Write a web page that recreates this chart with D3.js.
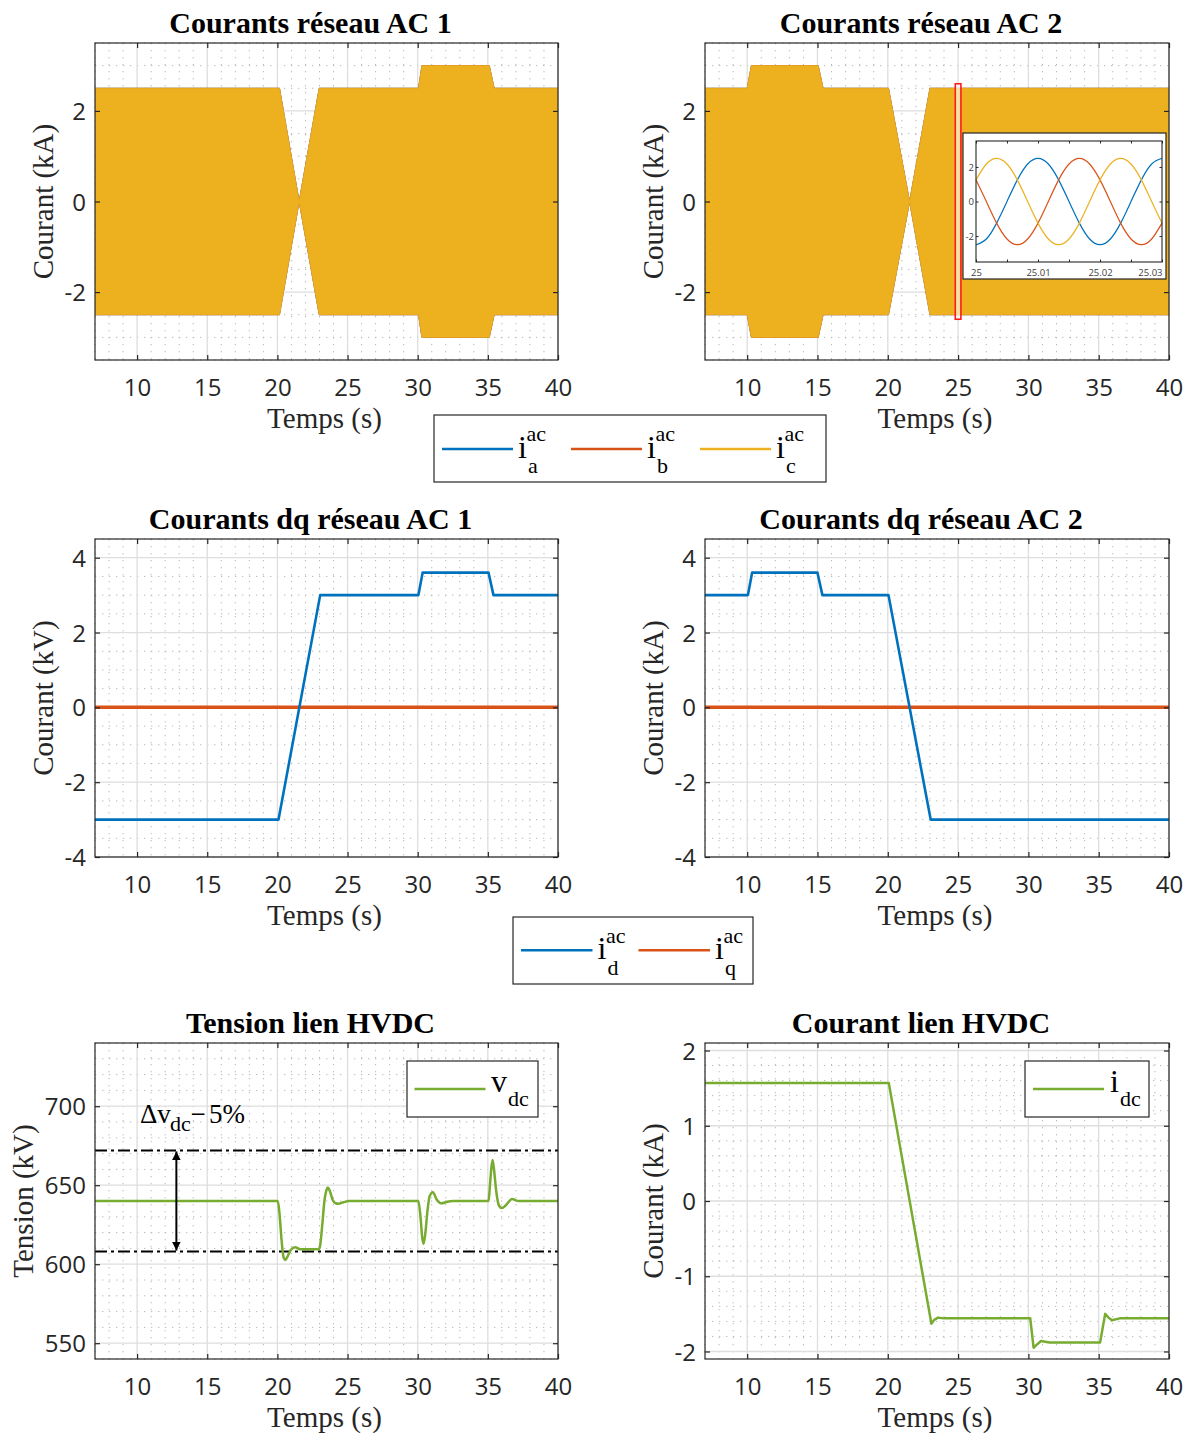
<!DOCTYPE html>
<html><head><meta charset="utf-8">
<script src="https://cdn.jsdelivr.net/npm/d3@7"></script>
<style>
body{margin:0;background:#fff;}
svg{display:block;}
</style></head><body>
<svg id="c" width="1198" height="1436"></svg>
<script>
// ---------------- data ----------------
const xDomain = [7, 40];
const xTicks = [10, 15, 20, 25, 30, 35, 40];
const acYTicks = [-2, 0, 2];
const dqYTicks = [-4, -2, 0, 2, 4];
const vdcYTicks = [550, 600, 650, 700];
const idcYTicks = [-2, -1, 0, 1, 2];

// AC current envelopes (peak amplitude, kA)
const ac1EnvT = [7, 20.15, 21.55, 22.98, 30.06, 30.3, 35.1, 35.45, 40];
const ac1EnvA = [2.5, 2.5, 0, 2.5, 2.5, 3.0, 3.0, 2.5, 2.5];
const ac2EnvT = [7, 10.0, 10.3, 15.05, 15.4, 20.05, 21.55, 23.0, 40];
const ac2EnvA = [2.5, 2.5, 3.0, 3.0, 2.5, 2.5, 0, 2.5, 2.5];

// zoomed inset (AC 2 around t = 25 s)
const insetT = [25, 25.00167, 25.00333, 25.005, 25.00667, 25.00833, 25.01, 25.01167, 25.01333, 25.015,
                25.01667, 25.01833, 25.02, 25.02167, 25.02333, 25.025, 25.02667, 25.02833, 25.03];
const insetA = [-2.5, -2.17, -1.25, 0, 1.25, 2.17, 2.5, 2.17, 1.25, 0, -1.25, -2.17, -2.5, -2.17, -1.25, 0, 1.25, 2.17, 2.5];
const insetB = [1.25, 0, -1.25, -2.17, -2.5, -2.17, -1.25, 0, 1.25, 2.17, 2.5, 2.17, 1.25, 0, -1.25, -2.17, -2.5, -2.17, -1.25];
const insetC = [1.25, 2.17, 2.5, 2.17, 1.25, 0, -1.25, -2.17, -2.5, -2.17, -1.25, 0, 1.25, 2.17, 2.5, 2.17, 1.25, 0, -1.25];
const insetXTicks = [25, 25.005, 25.01, 25.015, 25.02, 25.025, 25.03];
const insetXLabels = ['25', '', '25.01', '', '25.02', '', '25.03'];
const insetYTicks = [-2, 0, 2];

// dq currents
const dq1T = [7, 20.08, 23.05, 30.05, 30.35, 35.05, 35.4, 40];
const dq1Id = [-3, -3, 3, 3, 3.6, 3.6, 3, 3];
const dq2T = [7, 10.05, 10.35, 15.0, 15.35, 20.05, 23.05, 40];
const dq2Id = [3, 3, 3.6, 3.6, 3, 3, -3, -3];
const iqT = [7, 40];
const iqV = [0, 0];

// HVDC voltage (kV)
const vdcT = [7, 20.03, 20.15, 20.3, 20.45, 20.55, 20.7, 20.95, 21.27, 21.6, 22.95, 23.05, 23.2, 23.35, 23.5, 23.6, 23.75, 23.95, 24.15, 24.36, 24.7, 25.1,
              30.05, 30.2, 30.32, 30.42, 30.55, 30.7, 30.85, 31.08, 31.35, 31.7, 32.1, 32.5,
              35.05, 35.15, 35.25, 35.34, 35.45, 35.6, 35.8, 36.0, 36.3, 36.72, 37.2, 40];
const vdcV = [640, 640, 632, 615, 604, 602.7, 604.5, 609, 610.8, 609.5, 609.5, 612, 625, 640, 647, 648.6, 646, 640.5, 638.6, 638.3, 639.2, 640,
              640, 630, 617, 613, 620, 634, 643, 645.5, 641, 638.5, 639.5, 640,
              640, 650, 661, 666, 659, 646, 637, 635.5, 637.5, 641.2, 640, 640];
const vdcRefHigh = 672;
const vdcRefLow = 608;
const arrowT = 12.8;

// HVDC current (kA)
const idcT = [7, 20.07, 23.1, 23.3, 23.57, 24.0, 30.13, 30.37, 30.6, 30.9, 31.5, 35.1, 35.46, 35.7, 35.94, 36.5, 40];
const idcV = [1.57, 1.57, -1.63, -1.58, -1.55, -1.56, -1.56, -1.95, -1.91, -1.86, -1.88, -1.88, -1.50, -1.55, -1.585, -1.56, -1.56];

// ---------------- styles ----------------
const BLUE = '#0072BD', RED = '#D95319', YEL = '#EDB120', GREEN = '#77AC30';
const SERIF = "'Liberation Serif','Times New Roman',serif";
const SANS = "'Open Sans','DejaVu Sans',sans-serif";
const TXT = '#262626';
const COLS = [[95, 558], [705, 1169]];
const ROWS = [[43, 360], [539, 857], [1043, 1359]];
const TITLE_SHIFT = -16;

const svg = d3.select('#c');
svg.append('rect').attr('width', 1198).attr('height', 1436).attr('fill', '#fff');

function minorVals(dom, step, majors) {
  const k0 = Math.ceil(dom[0] / step - 1e-9), k1 = Math.floor(dom[1] / step + 1e-9);
  return d3.range(k0, k1 + 1).map(k => +(k * step).toFixed(6))
    .filter(v => !majors.some(m => Math.abs(m - v) < 1e-6));
}

function makePanel({col, row, yDomain, yTicks, yMinor, title, ylabel, ylabelDx}) {
  const [L, R] = COLS[col], [T, B] = ROWS[row];
  const x = d3.scaleLinear().domain(xDomain).range([L, R]);
  const y = d3.scaleLinear().domain(yDomain).range([B, T]);
  const g = svg.append('g');
  const id = 'clip' + col + row;
  svg.append('clipPath').attr('id', id).append('rect')
    .attr('x', L).attr('y', T).attr('width', R - L).attr('height', B - T);
  g.append('rect').attr('x', L).attr('y', T).attr('width', R - L).attr('height', B - T).attr('fill', '#fff');
  const grid = g.append('g');
  const xm = minorVals(xDomain, 1, xTicks);
  const ym = minorVals(yDomain, yMinor, yTicks);
  grid.selectAll('.mx').data(xm).join('line')
    .attr('x1', d => x(d)).attr('x2', d => x(d)).attr('y1', T).attr('y2', B)
    .attr('stroke', '#b8b8b8').attr('stroke-width', 1).attr('stroke-dasharray', '1.3,5.7');
  grid.selectAll('.my').data(ym).join('line')
    .attr('y1', d => y(d)).attr('y2', d => y(d)).attr('x1', L).attr('x2', R)
    .attr('stroke', '#b8b8b8').attr('stroke-width', 1).attr('stroke-dasharray', '1.3,5.7');
  grid.selectAll('.gx').data(xTicks).join('line')
    .attr('x1', d => x(d)).attr('x2', d => x(d)).attr('y1', T).attr('y2', B)
    .attr('stroke', '#dedede').attr('stroke-width', 1.3);
  grid.selectAll('.gy').data(yTicks).join('line')
    .attr('y1', d => y(d)).attr('y2', d => y(d)).attr('x1', L).attr('x2', R)
    .attr('stroke', '#dedede').attr('stroke-width', 1.3);
  const data = g.append('g').attr('clip-path', `url(#${id})`);
  const axes = g.append('g');
  const styleAxis = s => {
    s.select('.domain').remove();
    s.attr('font-family', SANS).attr('font-size', 24);
    s.selectAll('line').attr('stroke', TXT).attr('stroke-width', 1.2);
    s.selectAll('text').attr('fill', TXT);
  };
  axes.append('g').attr('transform', `translate(0,${B})`)
    .call(d3.axisBottom(x).tickValues(xTicks).tickSize(-5).tickFormat(d => String(d)))
    .call(styleAxis).call(s => s.selectAll('text').attr('y', 36).attr('dy', null));
  axes.append('g').attr('transform', `translate(0,${T})`)
    .call(d3.axisTop(x).tickValues(xTicks).tickSize(-5).tickFormat(''))
    .call(styleAxis);
  axes.append('g').attr('transform', `translate(${L},0)`)
    .call(d3.axisLeft(y).tickValues(yTicks).tickSize(-5).tickFormat(d => String(d)))
    .call(styleAxis).call(s => s.selectAll('text').attr('x', -9).attr('dy', '0.36em'));
  axes.append('g').attr('transform', `translate(${R},0)`)
    .call(d3.axisRight(y).tickValues(yTicks).tickSize(-5).tickFormat(''))
    .call(styleAxis);
  axes.append('rect').attr('x', L).attr('y', T).attr('width', R - L).attr('height', B - T)
    .attr('fill', 'none').attr('stroke', TXT).attr('stroke-width', 1.2);
  svg.append('text').attr('x', (L + R) / 2 + TITLE_SHIFT).attr('y', T - 10).attr('text-anchor', 'middle')
    .attr('font-family', SERIF).attr('font-weight', 'bold').attr('font-size', 30).attr('fill', '#000').text(title);
  svg.append('text').attr('x', (L + R) / 2 - 2).attr('y', B + 68).attr('text-anchor', 'middle')
    .attr('font-family', SERIF).attr('font-size', 29).attr('fill', TXT).text('Temps (s)');
  svg.append('text').attr('transform', `translate(${L - ylabelDx},${(T + B) / 2}) rotate(-90)`)
    .attr('text-anchor', 'middle').attr('font-family', SERIF).attr('font-size', 29).attr('fill', TXT).text(ylabel);
  return {x, y, data, L, R, T, B};
}

function drawLine(p, T, V, color, w, curve) {
  const pts = T.map((t, i) => [t, V[i]]);
  p.data.append('path').datum(pts)
    .attr('d', d3.line().x(d => p.x(d[0])).y(d => p.y(d[1])).curve(curve || d3.curveLinear))
    .attr('fill', 'none').attr('stroke', color).attr('stroke-width', w).attr('stroke-linejoin', 'round');
}

function drawEnvelope(p, T, A) {
  const pts = T.map((t, i) => [t, A[i]]);
  [BLUE, RED, YEL].forEach(c => {
    p.data.append('path').datum(pts)
      .attr('d', d3.area().x(d => p.x(d[0])).y0(d => p.y(-d[1])).y1(d => p.y(d[1])))
      .attr('fill', c).attr('stroke', c).attr('stroke-width', 0.8);
  });
}

// ---------------- row 1 : AC currents ----------------
const p1 = makePanel({col: 0, row: 0, yDomain: [-3.5, 3.5], yTicks: acYTicks, yMinor: 0.5,
  title: 'Courants réseau AC 1', ylabel: 'Courant (kA)', ylabelDx: 42});
drawEnvelope(p1, ac1EnvT, ac1EnvA);

const p2 = makePanel({col: 1, row: 0, yDomain: [-3.5, 3.5], yTicks: acYTicks, yMinor: 0.5,
  title: 'Courants réseau AC 2', ylabel: 'Courant (kA)', ylabelDx: 42});
drawEnvelope(p2, ac2EnvT, ac2EnvA);
// zoom marker
p2.data.append('rect')
  .attr('x', p2.x(24.8)).attr('y', p2.y(2.6))
  .attr('width', p2.x(25.2) - p2.x(24.8)).attr('height', p2.y(-2.6) - p2.y(2.6))
  .attr('fill', '#fff').attr('fill-opacity', 0.6).attr('stroke', '#ff1a1a').attr('stroke-width', 1.6);

// inset
(function () {
  const box = {x0: 963, y0: 133, x1: 1166, y1: 279};
  const L = 976, R = 1162, T = 141, B = 262;
  const g = svg.append('g');
  g.append('rect').attr('x', box.x0).attr('y', box.y0).attr('width', box.x1 - box.x0).attr('height', box.y1 - box.y0)
    .attr('fill', '#fff').attr('stroke', TXT).attr('stroke-width', 1.2);
  const xi = d3.scaleLinear().domain([25, 25.03]).range([L, R]);
  const yi = d3.scaleLinear().domain([-3.5, 3.5]).range([B, T]);
  [[insetA, BLUE], [insetB, RED], [insetC, YEL]].forEach(([vals, c]) => {
    g.append('path').datum(insetT.map((t, i) => [t, vals[i]]))
      .attr('d', d3.line().x(d => xi(d[0])).y(d => yi(d[1])).curve(d3.curveNatural))
      .attr('fill', 'none').attr('stroke', c).attr('stroke-width', 1.2);
  });
  const st = s => {
    s.select('.domain').remove();
    s.attr('font-family', SANS).attr('font-size', 9.5);
    s.selectAll('line').attr('stroke', TXT);
    s.selectAll('text').attr('fill', '#404040');
  };
  g.append('g').attr('transform', `translate(0,${B})`)
    .call(d3.axisBottom(xi).tickValues(insetXTicks).tickSize(-2.5).tickFormat((d, i) => insetXLabels[i]))
    .call(st).call(s => {
      s.selectAll('text').attr('y', 14).attr('dy', null);
      s.selectAll('.tick:last-of-type text').attr('text-anchor', 'end');
    });
  g.append('g').attr('transform', `translate(0,${T})`)
    .call(d3.axisTop(xi).tickValues(insetXTicks).tickSize(-2.5).tickFormat('')).call(st);
  g.append('g').attr('transform', `translate(${L},0)`)
    .call(d3.axisLeft(yi).tickValues(insetYTicks).tickSize(-2.5).tickFormat(d => String(d)))
    .call(st).call(s => s.selectAll('text').attr('x', -2).attr('dy', '0.35em'));
  g.append('g').attr('transform', `translate(${R},0)`)
    .call(d3.axisRight(yi).tickValues(insetYTicks).tickSize(-2.5).tickFormat('')).call(st);
  g.append('rect').attr('x', L).attr('y', T).attr('width', R - L).attr('height', B - T)
    .attr('fill', 'none').attr('stroke', TXT).attr('stroke-width', 1.1);
})();

// ---------------- legends ----------------
function mathLabel(x, base, main, sup, sub, size, ssize, subDy) {
  const t = svg.append('text').attr('x', x).attr('y', base).attr('font-family', SERIF)
    .attr('font-size', size).attr('fill', '#000').text(main);
  const w = t.node().getComputedTextLength();
  if (sup) svg.append('text').attr('x', x + w - 0.5).attr('y', base - 16.5).attr('font-family', SERIF)
    .attr('font-size', ssize).attr('fill', '#000').text(sup);
  if (sub) svg.append('text').attr('x', x + w + 1).attr('y', base + (subDy || 15.5)).attr('font-family', SERIF)
    .attr('font-size', ssize).attr('fill', '#000').text(sub);
}
function legendBox(x0, y0, x1, y1) {
  svg.append('rect').attr('x', x0).attr('y', y0).attr('width', x1 - x0).attr('height', y1 - y0)
    .attr('fill', '#fff').attr('stroke', TXT).attr('stroke-width', 1.2);
}
function legendLine(x0, x1, y, c) {
  svg.append('line').attr('x1', x0).attr('x2', x1).attr('y1', y).attr('y2', y)
    .attr('stroke', c).attr('stroke-width', 2.5);
}
legendBox(434, 415, 826, 482);
[[442, BLUE, 'a'], [571, RED, 'b'], [700, YEL, 'c']].forEach(([x0, c, s]) => {
  legendLine(x0, x0 + 71, 449, c);
  mathLabel(x0 + 76, 457.7, 'i', 'ac', s, 32, 22);
});

// ---------------- row 2 : dq currents ----------------
const p3 = makePanel({col: 0, row: 1, yDomain: [-4, 4.5], yTicks: dqYTicks, yMinor: 0.5,
  title: 'Courants dq réseau AC 1', ylabel: 'Courant (kV)', ylabelDx: 42});
drawLine(p3, iqT, iqV, RED, 3.5);
drawLine(p3, dq1T, dq1Id, BLUE, 2.6);

const p4 = makePanel({col: 1, row: 1, yDomain: [-4, 4.5], yTicks: dqYTicks, yMinor: 0.5,
  title: 'Courants dq réseau AC 2', ylabel: 'Courant (kA)', ylabelDx: 42});
drawLine(p4, iqT, iqV, RED, 3.5);
drawLine(p4, dq2T, dq2Id, BLUE, 2.6);

legendBox(513, 917, 753, 984);
[[521, BLUE, 'd'], [638.5, RED, 'q']].forEach(([x0, c, s]) => {
  legendLine(x0, x0 + 71.5, 950.3, c);
  mathLabel(x0 + 76.5, 959, 'i', 'ac', s, 32, 22);
});

// ---------------- row 3 : HVDC ----------------
const p5 = makePanel({col: 0, row: 2, yDomain: [540, 740], yTicks: vdcYTicks, yMinor: 10,
  title: 'Tension lien HVDC', ylabel: 'Tension (kV)', ylabelDx: 62});
[vdcRefHigh, vdcRefLow].forEach(v => {
  p5.data.append('line').attr('x1', p5.L).attr('x2', p5.R).attr('y1', p5.y(v)).attr('y2', p5.y(v))
    .attr('stroke', '#000').attr('stroke-width', 2).attr('stroke-dasharray', '12,4,3,4');
});
drawLine(p5, vdcT, vdcV, GREEN, 2.5, d3.curveMonotoneX);
// double arrow
const defs = svg.append('defs');
defs.append('marker').attr('id', 'ah').attr('viewBox', '0 0 10 10').attr('refX', 10).attr('refY', 5)
  .attr('markerWidth', 9).attr('markerHeight', 9).attr('markerUnits', 'userSpaceOnUse').attr('orient', 'auto-start-reverse')
  .append('path').attr('d', 'M0,0 L10,5 L0,10 Z').attr('fill', '#000');
svg.append('line').attr('x1', p5.x(arrowT)).attr('x2', p5.x(arrowT))
  .attr('y1', p5.y(vdcRefHigh) + 1).attr('y2', p5.y(vdcRefLow) - 1)
  .attr('stroke', '#000').attr('stroke-width', 2)
  .attr('marker-start', 'url(#ah)').attr('marker-end', 'url(#ah)');
// annotation
svg.append('text').attr('x', 140).attr('y', 1123.3).attr('font-family', SERIF).attr('font-size', 27).attr('fill', '#000').text('Δv');
svg.append('text').attr('x', 170).attr('y', 1130.5).attr('font-family', SERIF).attr('font-size', 22).attr('fill', '#000').text('dc');
svg.append('text').attr('x', 190.5).attr('y', 1123.3).attr('font-family', SERIF).attr('font-size', 27).attr('fill', '#000').text('−');
svg.append('text').attr('x', 209).attr('y', 1123.3).attr('font-family', SERIF).attr('font-size', 27).attr('fill', '#000').text('5%');
legendBox(407, 1061, 538, 1117);
legendLine(414.5, 485.5, 1089, GREEN);
mathLabel(491, 1091.7, 'v', null, 'dc', 32, 22, 14.5);

const p6 = makePanel({col: 1, row: 2, yDomain: [-2.1, 2.1], yTicks: idcYTicks, yMinor: 0.2,
  title: 'Courant lien HVDC', ylabel: 'Courant (kA)', ylabelDx: 42});
drawLine(p6, idcT, idcV, GREEN, 2.5);
legendBox(1025, 1061, 1149, 1117);
legendLine(1033, 1104, 1089, GREEN);
mathLabel(1110, 1091.7, 'i', null, 'dc', 32, 22, 14.5);
</script>
</body></html>
